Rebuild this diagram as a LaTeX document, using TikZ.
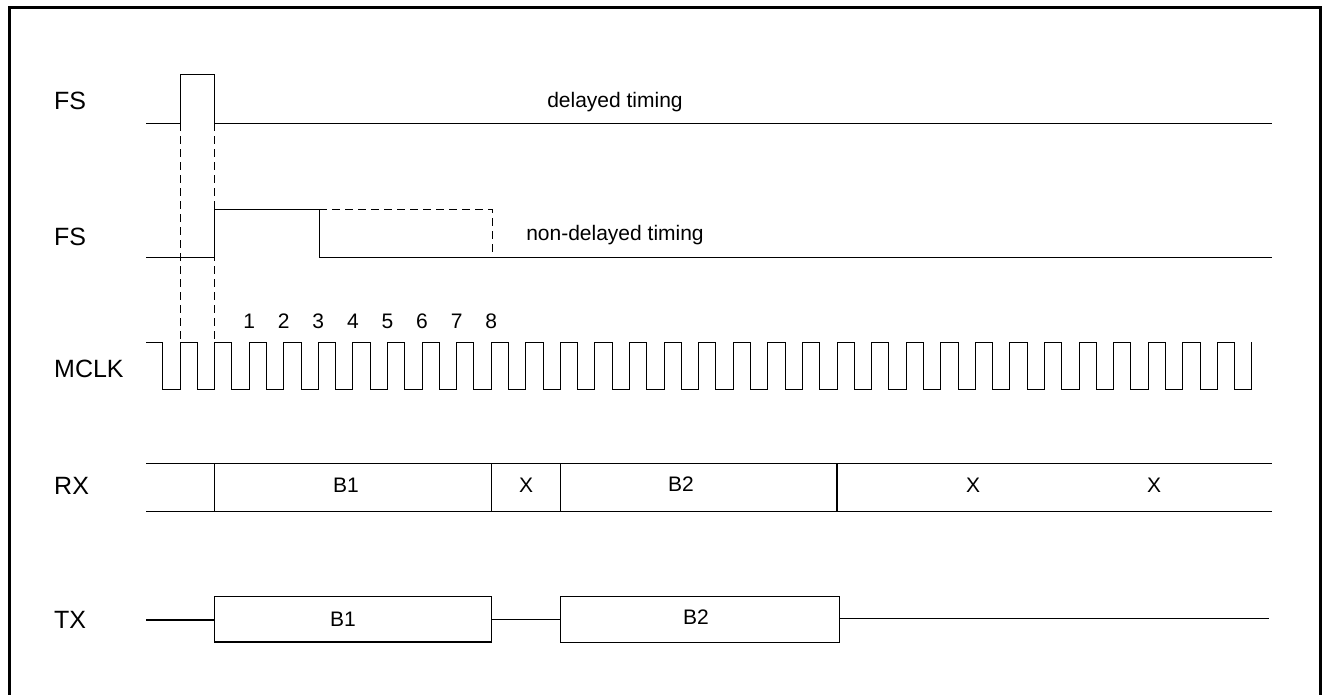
\documentclass[tikz,border=0pt]{standalone}
\usepackage{fontspec}
\setmainfont{Liberation Sans}
\usepackage{tikz}

\tikzset{
  sig/.style={line width=1pt},
  guide/.style={line width=0.9pt, dash pattern=on 8pt off 5pt},
  lbl/.style={font=\fontsize{25}{30}\selectfont, anchor=base west, inner sep=0pt},
  txt/.style={font=\fontsize{21}{25}\selectfont, anchor=base, inner sep=0pt},
}

\begin{document}
\begin{tikzpicture}[x=1pt, y=-1pt]
\useasboundingbox (0,0) rectangle (1326,694);
\draw[line width=3pt] (9,700) -- (9,7.5) -- (1320,7.5) -- (1320,700);

\node[lbl] (fsa) at (54,109) {FS};
\node[lbl] (fsb) at (54,245) {FS};
\node[lbl] (mclk) at (54,377) {MCLK};
\node[lbl] (rx) at (54,494) {RX};
\node[lbl] (tx) at (54,628) {TX};

% FS, delayed
\draw[sig] (146,123) -- (180,123) -- (180,74) -- (214,74) -- (214,123) -- (1272,123);
\node[txt] (dly) at (615,107) {delayed timing};
\draw[guide] (180,123) -- (180,342);
\draw[guide] (214,123) -- (214,342);

% FS, non-delayed
\draw[sig] (146,257) -- (214,257) -- (214,209) -- (319,209) -- (319,257) -- (1272,257);
\draw[guide] (319,209) -- (492,209) -- (492,257);
\node[txt] (ndly) at (615,240) {non-delayed timing};

% MCLK
\draw[sig] (146,342) \foreach \k in {0,...,31} {
  -- ({180+34.58*\k-17.29},342) -- ({180+34.58*\k-17.29},389)
  -- ({180+34.58*\k},389) -- ({180+34.58*\k},342)};
\foreach \n in {1,...,8}
  \node[txt] (num\n) at ({180+34.58*(\n+1)},328) {\n};

% RX
\draw[sig] (146,463) -- (1272,463);
\draw[sig] (146,511) -- (1272,511);
\draw[sig] (214,463) -- (214,511);
\draw[sig] (491,463) -- (491,511);
\draw[sig] (560,463) -- (560,511);
\draw[line width=1.6pt] (837,463) -- (837,511);
\node[txt] (rxa) at (346,492) {B1};
\node[txt] (rxb) at (526,492) {X};
\node[txt] (rxc) at (681,491) {B2};
\node[txt] (rxd) at (973,492) {X};
\node[txt] (rxe) at (1154,492) {X};

% TX
\draw[line width=1.6pt] (146,620) -- (214,620);
\draw[sig] (214,596) rectangle (491,642);
\draw[line width=1.6pt] (214,642) -- (491,642);
\draw[sig] (491,619) -- (560,619);
\draw[sig] (560,596) rectangle (839,642);
\draw[sig] (839,618) -- (1269,618);
\node[txt] (txa) at (343,626) {B1};
\node[txt] (txb) at (696,624) {B2};
\end{tikzpicture}
\end{document}
